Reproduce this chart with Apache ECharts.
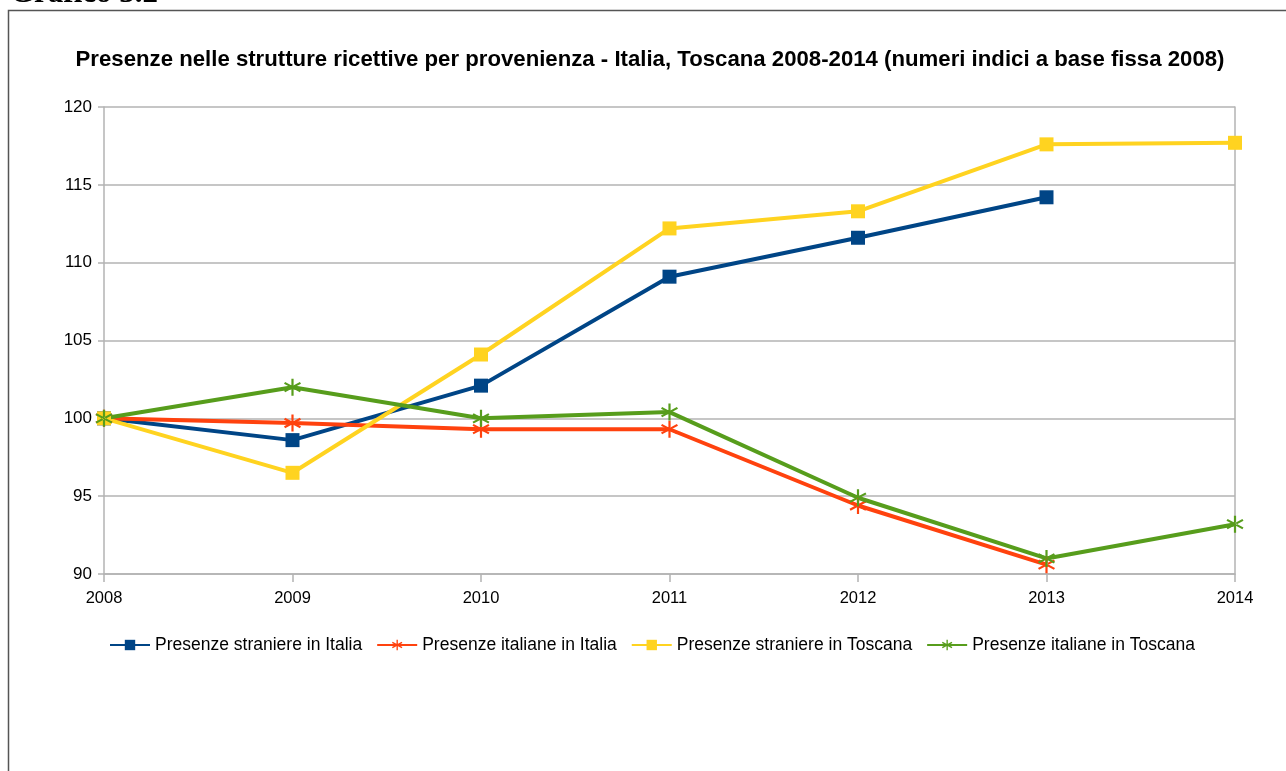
<!DOCTYPE html>
<html>
<head>
<meta charset="utf-8">
<script src="https://cdn.jsdelivr.net/npm/echarts@6/dist/echarts.min.js"></script>
<style>
  html, body { margin: 0; padding: 0; background: #ffffff; }
  #chart { width: 1286px; height: 771px; }
</style>
</head>
<body>
<div id="chart"></div>
<script>
// Anni sull'asse orizzontale
const anni = ['2008', '2009', '2010', '2011', '2012', '2013', '2014'];

// Numeri indici (base 2008 = 100)
const stranieriItalia = [100, 98.6, 102.1, 109.1, 111.6, 114.2, null];
const italianiItalia = [100, 99.7, 99.3, 99.3, 94.4, 90.6, null];
const stranieriToscana = [100, 96.5, 104.1, 112.2, 113.3, 117.6, 117.7];
const italianiToscana = [100, 102.0, 100.0, 100.4, 94.9, 91.0, 93.2];

const nomiSerie = [
  'Presenze straniere in Italia',
  'Presenze italiane in Italia',
  'Presenze straniere in Toscana',
  'Presenze italiane in Toscana'
];

const titolo = 'Presenze nelle strutture ricettive per provenienza - Italia, Toscana 2008-2014 (numeri indici a base fissa 2008)';

// Asterisco a sei bracci per le serie "italiane"
const asterisco = 'path://M8.8,0L11.2,0L11.2,20L8.8,20Z' +
  'M1.94,3.96L19.26,13.96L18.06,16.04L0.74,6.04Z' +
  'M1.94,16.04L19.26,6.04L18.06,3.96L0.74,13.96Z';

const font = '"Liberation Sans", Arial, sans-serif';

function serie(nome, dati, colore, simbolo, dim) {
  return {
    name: nome,
    type: 'line',
    data: dati,
    symbol: simbolo,
    symbolSize: dim,
    showAllSymbol: true,
    connectNulls: false,
    lineStyle: { color: colore, width: 4 },
    itemStyle: { color: colore, borderWidth: 0 },
    emphasis: { disabled: true },
    z: 3
  };
}

const chart = echarts.init(document.getElementById('chart'), null, { renderer: 'canvas' });

chart.setOption({
  animation: false,
  backgroundColor: '#ffffff',
  textStyle: { fontFamily: font },
  graphic: [
    {
      type: 'rect',
      shape: { x: 8.5, y: 10.5, width: 1300, height: 800 },
      style: { fill: 'none', stroke: '#555555', lineWidth: 1.5 },
      silent: true
    },
    {
      type: 'text',
      x: 10,
      y: -22,
      style: {
        text: 'Grafico 3.2',
        font: 'bold 31px "Liberation Serif", "Times New Roman", serif',
        fill: '#000000',
        textVerticalAlign: 'top'
      },
      silent: true
    },
    {
      type: 'text',
      x: 650,
      y: 60,
      style: {
        text: titolo,
        font: 'bold 22.2px ' + font,
        fill: '#000000',
        textAlign: 'center',
        textVerticalAlign: 'middle'
      },
      silent: true
    }
  ],
  legend: {
    data: nomiSerie,
    left: 104,
    top: 631,
    orient: 'horizontal',
    itemWidth: 40,
    itemHeight: 13,
    itemGap: 14,
    textStyle: { fontSize: 17.5, color: '#000000', fontFamily: font },
    selectedMode: false
  },
  grid: {
    left: 104,
    right: 51,
    top: 107,
    bottom: 197,
    containLabel: false
  },
  xAxis: {
    type: 'category',
    data: anni,
    boundaryGap: false,
    axisLine: { show: true, lineStyle: { color: '#b3b3b3', width: 1.5 } },
    axisTick: { show: true, alignWithLabel: true, length: 8, lineStyle: { color: '#b3b3b3', width: 1.5 } },
    axisLabel: { color: '#000000', fontSize: 16.5, margin: 16, fontFamily: font },
    splitLine: { show: false }
  },
  yAxis: [
    {
      type: 'value',
      min: 90,
      max: 120,
      interval: 5,
      axisLine: { show: true, lineStyle: { color: '#b3b3b3', width: 1.5 } },
      axisTick: { show: true, length: 6, lineStyle: { color: '#b3b3b3', width: 1.5 } },
      axisLabel: { color: '#000000', fontSize: 17, margin: 12, fontFamily: font },
      splitLine: { show: true, lineStyle: { color: '#b3b3b3', width: 1.5 } }
    },
    {
      type: 'value',
      position: 'right',
      min: 90,
      max: 120,
      interval: 5,
      axisLine: { show: true, lineStyle: { color: '#b3b3b3', width: 1.5 } },
      axisTick: { show: false },
      axisLabel: { show: false },
      splitLine: { show: false }
    }
  ],
  series: [
    serie(nomiSerie[0], stranieriItalia, '#004586', 'rect', 14),
    serie(nomiSerie[1], italianiItalia, '#ff420e', asterisco, 17),
    serie(nomiSerie[2], stranieriToscana, '#ffd320', 'rect', 14),
    serie(nomiSerie[3], italianiToscana, '#579d1c', asterisco, 17)
  ]
});
</script>
</body>
</html>
